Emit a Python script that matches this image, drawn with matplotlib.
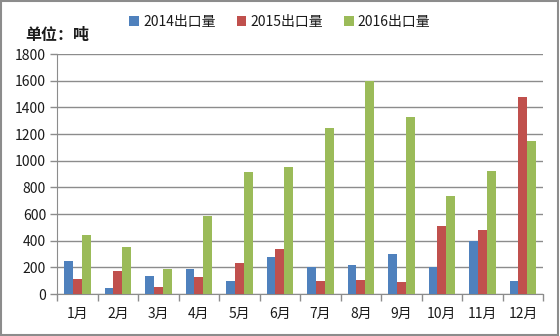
import matplotlib
matplotlib.use("Agg")
import matplotlib.pyplot as plt
import numpy as np
from matplotlib.patches import Rectangle

plt.rcParams['font.family'] = ['Noto Sans CJK SC', 'DejaVu Sans']

months = ['1月', '2月', '3月', '4月', '5月', '6月', '7月', '8月', '9月', '10月', '11月', '12月']
series_names = ['2014出口量', '2015出口量', '2016出口量']
v2014 = [245, 45, 135, 185, 100, 280, 200, 220, 300, 200, 400, 100]
v2015 = [115, 175, 55, 125, 230, 340, 95, 105, 90, 510, 480, 1480]
v2016 = [440, 350, 185, 585, 915, 950, 1245, 1600, 1325, 735, 925, 1150]
yticks = [0, 200, 400, 600, 800, 1000, 1200, 1400, 1600, 1800]
colors = ['#4F81BD', '#C0504D', '#9BBB59']

fig = plt.figure(figsize=(5.6, 3.36), dpi=100)
ax = fig.add_axes([0.102, 0.125, 0.868, 0.714])

x = np.arange(len(months))
w = 0.22
for i, (vals, c, name) in enumerate(zip([v2014, v2015, v2016], colors, series_names)):
    ax.bar(x + (i - 1) * w, vals, width=w, color=c, label=name, zorder=3)

ax.set_xlim(-0.5, len(months) - 0.5)
ax.set_ylim(0, 1800)
ax.set_yticks(yticks)
ax.set_yticklabels([str(t) for t in yticks], fontsize=10, fontweight='medium', color='#1a1a1a')
ax.yaxis.grid(True, color='#8c8c8c', linewidth=1.0, zorder=0)
ax.set_axisbelow(True)

ax.set_xticks(x)
ax.set_xticklabels(months, fontsize=10, fontweight='medium', color='#1a1a1a')
ax.tick_params(axis='x', length=0, pad=9)
ax.set_xticks(np.arange(-0.5, len(months), 1), minor=True)
ax.tick_params(axis='x', which='minor', length=5, color='#8c8c8c', width=1)
ax.tick_params(axis='y', length=5, color='#8c8c8c', width=1, pad=3)

for s in ['top', 'right']:
    ax.spines[s].set_visible(False)
ax.spines['left'].set_color('#8c8c8c')
ax.spines['bottom'].set_color('#8c8c8c')

fig.text(0.045, 0.895, '单位：吨', fontsize=11.5, fontweight='bold', color='#1a1a1a', va='center')

leg = fig.legend(loc='center', bbox_to_anchor=(0.5, 0.935), ncol=3, frameon=False,
                 handlelength=0.7, handleheight=0.7, handletextpad=0.3,
                 columnspacing=1.5, prop={'weight': 'medium', 'size': 10})
for t in leg.get_texts():
    t.set_color('#1a1a1a')

fig.patches.append(Rectangle((0.002, 0.003), 0.995, 0.993, transform=fig.transFigure,
                             fill=False, edgecolor='#8c8c8c', linewidth=1.5))

fig.savefig('out.png', dpi=100)
